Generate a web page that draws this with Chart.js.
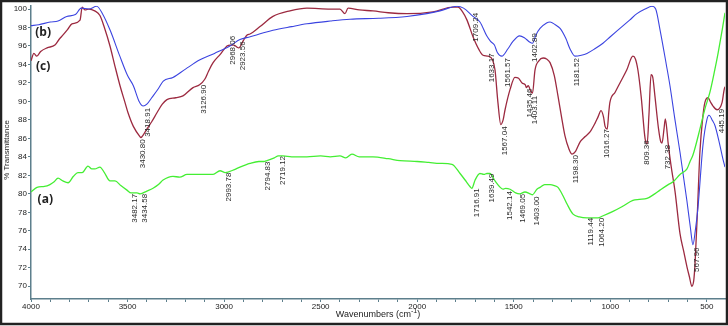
<!DOCTYPE html>
<html>
<head>
<meta charset="utf-8">
<script src="https://cdn.jsdelivr.net/npm/chart.js@4.4.1/dist/chart.umd.min.js"></script>
<style>
  html, body { margin: 0; padding: 0; background: #fff; }
  canvas { display: block; }
</style>
</head>
<body>
<canvas id="ftirCanvas" width="728" height="326"></canvas>
<script>
// spectrum (a) - green
const wnA = [4000, 3969, 3930, 3902, 3880, 3860, 3835, 3808, 3780, 3757, 3735, 3705, 3685, 3669, 3643, 3620, 3591, 3565, 3535, 3503,
  3482, 3451, 3435, 3400, 3368, 3340, 3316, 3265, 3230, 3192, 3120, 3057, 3021, 2994, 2950, 2918, 2866, 2820, 2795, 2778,
  2740, 2719, 2695, 2650, 2571, 2500, 2450, 2400, 2370, 2338, 2300, 2229, 2150, 2089, 2000, 1940, 1882, 1820, 1778, 1745,
  1727, 1717, 1700, 1675, 1655, 1639, 1623, 1597, 1570, 1556, 1542, 1519, 1490, 1469, 1442, 1415, 1403, 1380, 1364, 1340,
  1312, 1290, 1271, 1245, 1224, 1193, 1160, 1121, 1090, 1064, 1040, 986, 940, 883, 850, 810, 770, 743, 700, 675,
  639, 603, 587, 572, 536, 510, 484, 460, 442, 420, 406];
const tA = [80.2, 80.7, 80.8, 81.0, 81.3, 81.7, 81.4, 81.2, 81.9, 82.3, 82.3, 83.0, 82.7, 82.7, 82.9, 82.3, 81.4, 81.4, 80.9, 80.4,
  80.1, 80.1, 80.0, 80.3, 80.6, 81.0, 81.5, 81.9, 81.8, 82.1, 82.1, 82.1, 82.5, 82.3, 82.6, 82.9, 83.3, 83.5, 83.5, 83.6,
  83.9, 84.1, 84.1, 84.0, 84.0, 84.1, 84.0, 84.1, 83.9, 84.3, 84.0, 84.0, 83.8, 83.6, 83.5, 83.4, 83.3, 83.2, 82.2, 81.3,
  80.8, 80.6, 81.5, 82.2, 82.1, 82.2, 82.2, 81.4, 80.7, 80.5, 80.6, 80.5, 80.1, 80.0, 80.2, 80.0, 79.9, 80.5, 80.7, 81.0,
  81.0, 80.9, 80.7, 79.8, 78.9, 77.8, 77.5, 77.4, 77.4, 77.4, 77.6, 78.1, 78.6, 79.3, 79.4, 79.5, 80.0, 80.4, 81.0, 81.3,
  82.1, 82.7, 83.5, 84.2, 87.0, 89.2, 91.0, 93.3, 95.2, 97.8, 99.6];

// spectrum (b) - blue
const wnB = [4000, 3960, 3900, 3860, 3815, 3770, 3740, 3700, 3660, 3630, 3590, 3540, 3500, 3470, 3440, 3419, 3400, 3375, 3340, 3315,
  3265, 3200, 3125, 3050, 2970, 2918, 2865, 2800, 2747, 2650, 2571, 2450, 2348, 2200, 2053, 1950, 1882, 1794, 1760, 1711,
  1675, 1640, 1620, 1600, 1585, 1562, 1530, 1504, 1470, 1445, 1416, 1403, 1385, 1364, 1330, 1312, 1285, 1260, 1230, 1209,
  1183, 1150, 1121, 1080, 1038, 1000, 950, 900, 862, 820, 784, 765, 742, 710, 691, 665, 639, 603, 585, 572,
  560, 546, 520, 500, 489, 470, 458, 435, 416, 406];
const tB = [98.2, 98.3, 98.6, 98.7, 99.2, 99.4, 100.1, 100.0, 100.3, 99.5, 97.7, 94.9, 92.8, 91.7, 90.0, 89.5, 89.7, 90.4, 91.4, 92.2,
  92.6, 93.5, 94.5, 95.2, 96.0, 96.7, 97.0, 97.4, 97.7, 98.1, 98.4, 98.7, 98.9, 99.0, 99.2, 99.5, 99.8, 100.3, 100.1, 99.2,
  98.6, 97.1, 96.5, 96.1, 95.3, 94.9, 95.7, 96.5, 97.1, 96.9, 96.4, 96.3, 97.2, 97.9, 98.5, 98.6, 98.3, 97.9, 96.8, 95.7,
  94.9, 95.0, 95.2, 95.7, 96.3, 97.0, 97.9, 98.8, 99.5, 100.0, 100.3, 100.0, 97.7, 94.0, 91.7, 88.0, 84.5, 79.2, 76.3, 74.5,
  76.0, 78.5, 85.3, 88.0, 88.5, 87.9, 87.4, 85.5, 83.7, 82.9];

// spectrum (c) - maroon
const wnC = [4000, 3985, 3970, 3950, 3917, 3876, 3855, 3834, 3810, 3788, 3746, 3735, 3720, 3700, 3670, 3643, 3620, 3591, 3565, 3539,
  3515, 3498, 3470, 3436, 3431, 3415, 3400, 3375, 3347, 3320, 3296, 3250, 3213, 3161, 3127, 3100, 3080, 3057, 3020, 2985,
  2968, 2950, 2935, 2924, 2900, 2881, 2866, 2814, 2747, 2659, 2571, 2450, 2400, 2374, 2358, 2300, 2229, 2150, 2053, 1918,
  1815, 1789, 1765, 1742, 1711, 1680, 1659, 1633, 1610, 1597, 1582, 1567, 1555, 1545, 1519, 1494, 1475, 1457, 1440, 1435,
  1425, 1410, 1403, 1390, 1370, 1348, 1330, 1312, 1290, 1271, 1250, 1235, 1215, 1198, 1180, 1157, 1130, 1105, 1080, 1064,
  1048, 1035, 1027, 1016, 1008, 1002, 975, 950, 915, 883, 870, 857, 840, 820, 809, 800, 789, 780, 769, 750,
  738, 732, 722, 715, 705, 701, 685, 665, 639, 620, 603, 590, 578, 568, 561, 548, 536, 520, 510, 494,
  480, 468, 447, 421, 411, 406];
const tC = [94.4, 95.2, 94.9, 95.4, 95.8, 96.1, 96.7, 97.2, 97.8, 98.4, 98.8, 100.2, 99.9, 100.0, 99.8, 99.3, 98.0, 96.0, 93.8, 91.7,
  90.0, 88.8, 87.3, 86.2, 86.1, 86.5, 87.0, 87.8, 88.8, 89.7, 90.2, 90.4, 90.6, 91.5, 91.8, 92.4, 93.3, 94.2, 95.1, 96.0,
  96.1, 96.1, 95.9, 95.8, 96.6, 97.2, 97.3, 98.1, 99.2, 99.8, 100.1, 100.0, 100.0, 99.5, 100.1, 99.9, 99.8, 99.6, 99.5, 99.7,
  100.2, 100.2, 99.7, 98.8, 97.0, 95.6, 95.0, 94.9, 94.5, 93.4, 89.9, 87.5, 88.0, 89.1, 91.3, 92.6, 92.5, 92.0, 91.8, 91.5,
  91.7, 91.0, 90.9, 93.4, 94.4, 94.7, 94.6, 94.2, 92.8, 90.6, 88.0, 86.3, 84.9, 84.3, 84.6, 85.6, 86.2, 86.7, 87.6, 88.3,
  89.0, 88.3, 87.3, 87.0, 88.8, 89.9, 91.0, 92.0, 93.4, 94.9, 94.6, 93.4, 90.5, 86.0, 85.4, 88.5, 92.9, 92.6, 90.6, 87.0,
  85.6, 85.5, 87.0, 88.1, 86.5, 85.6, 83.0, 80.3, 75.7, 73.8, 72.1, 71.0, 70.0, 70.6, 72.5, 78.5, 84.5, 88.5, 89.9, 90.4,
  89.9, 89.5, 89.1, 89.9, 91.2, 91.6];

// axis ticks
const xTickLabels = [4000, 3500, 3000, 2500, 2000, 1500, 1000, 500];
const yTickLabels = [70, 72, 74, 76, 78, 80, 82, 84, 86, 88, 90, 92, 94, 96, 98, 100];

// peak annotations: text, anchor wavenumber, %T at the top end of the text
const peakText = ['3430.80', '3418.91', '3126.90', '2968.06', '2923.56', '1709.24', '1633.17', '1561.57', '1402.89', '1435.46',
  '1403.11', '1181.52', '1567.04', '1198.30', '1016.27', '809.36', '732.38', '567.96', '445.19',
  '3482.17', '3434.58', '2993.78', '2794.83', '2719.12', '1716.91', '1639.49', '1542.14', '1469.05', '1403.00', '1119.44', '1064.20'];
const peakX = [3420, 3394, 3104, 2956, 2902, 1696, 1613, 1530, 1390, 1416,
  1390, 1172, 1545, 1178, 1017, 810, 701, 551, 422,
  3461, 3410, 2975, 2773, 2695, 1690, 1613, 1519, 1452, 1380, 1100, 1043];
const peakY = [85.9, 89.3, 91.8, 97.1, 96.5, 99.6, 95.2, 94.7, 97.4, 91.4,
  90.6, 94.7, 87.3, 84.2, 87.0, 85.8, 85.3, 74.2, 89.2,
  80.0, 80.0, 82.3, 83.5, 84.1, 80.6, 82.2, 80.3, 80.0, 79.7, 77.4, 77.4];

// series letters
const seriesTags = ['(b)', '(c)', '(a)'];
const seriesTagX = [3978, 3974, 3966];
const seriesTagY = [97.4, 93.8, 79.4];

const axisColor = '#5d7f8c';
const narrow = '"Liberation Sans Narrow", "Arial Narrow", "Liberation Sans", Arial, sans-serif';

function toPoints(wn, t) {
  return wn.map((w, i) => ({ x: w, y: t[i] }));
}

const framePlugin = {
  id: 'frame',
  afterDraw(chart) {
    const c = chart.ctx;
    c.save();
    c.strokeStyle = '#222';
    c.lineWidth = 2.5;
    c.strokeRect(1, 1, chart.width - 2, chart.height - 3);
    c.restore();
  }
};

const textPlugin = {
  id: 'texts',
  afterDatasetsDraw(chart) {
    const c = chart.ctx;
    const xs = chart.scales.x, ys = chart.scales.y;
    c.save();
    c.fillStyle = '#2a2a2a';
    c.font = '8px ' + narrow;
    c.textAlign = 'right';
    c.textBaseline = 'middle';
    peakText.forEach((txt, i) => {
      c.save();
      c.translate(xs.getPixelForValue(peakX[i]), ys.getPixelForValue(peakY[i]));
      c.rotate(-Math.PI / 2);
      c.fillText(txt, 0, 0);
      c.restore();
    });

    c.font = 'bold 12px "Open Sans", "Liberation Sans", Arial, sans-serif';
    c.textAlign = 'left';
    c.fillStyle = '#222';
    seriesTags.forEach((tag, i) => {
      c.fillText(tag, xs.getPixelForValue(seriesTagX[i]), ys.getPixelForValue(seriesTagY[i]));
    });

    // y title
    c.font = '8px ' + narrow;
    c.textAlign = 'center';
    c.save();
    c.translate(7, 150);
    c.rotate(-Math.PI / 2);
    c.fillText('% Transmittance', 0, 0);
    c.restore();

    // x title with superscript
    const base = 'Wavenumbers (cm';
    const sup = '-1';
    const tail = ')';
    c.font = '9px ' + narrow;
    const w1 = c.measureText(base).width;
    const w3 = c.measureText(tail).width;
    c.font = '7px ' + narrow;
    const w2 = c.measureText(sup).width;
    let x0 = 378 - (w1 + w2 + w3) / 2;
    c.textAlign = 'left';
    c.font = '9px ' + narrow;
    c.fillText(base, x0, 315);
    c.font = '7px ' + narrow;
    c.fillText(sup, x0 + w1, 311);
    c.font = '9px ' + narrow;
    c.fillText(tail, x0 + w1 + w2, 315);
    c.restore();
  }
};

const ctx = document.getElementById('ftirCanvas').getContext('2d');
const ftirChart = new Chart(ctx, {
  type: 'line',
  data: {
    datasets: [
      { label: '(a)', data: toPoints(wnA, tA), borderColor: '#44ee33', borderWidth: 1.3 },
      { label: '(b)', data: toPoints(wnB, tB), borderColor: '#3b44e0', borderWidth: 1.1 },
      { label: '(c)', data: toPoints(wnC, tC), borderColor: '#9c2a40', borderWidth: 1.3 }
    ]
  },
  options: {
    responsive: false,
    animation: false,
    parsing: false,
    elements: {
      point: { radius: 0 },
      line: { tension: 0.4, cubicInterpolationMode: 'monotone', fill: false }
    },
    layout: { padding: { left: 2, top: 2, right: 3, bottom: 0 } },
    plugins: { legend: { display: false }, tooltip: { enabled: false } },
    scales: {
      x: {
        type: 'linear',
        reverse: true,
        min: 406,
        max: 4000,
        afterBuildTicks(axis) {
          const t = [];
          for (let v = 4000; v >= 500; v -= 100) t.push({ value: v });
          axis.ticks = t;
        },
        afterFit(axis) { axis.height = 27; },
        ticks: {
          autoSkip: false,
          maxRotation: 0,
          padding: 0,
          color: '#222',
          font: { family: narrow, size: 8 },
          callback: (v) => xTickLabels.includes(v) ? String(v) : ''
        },
        grid: { drawOnChartArea: false, drawTicks: true, tickLength: 3, color: axisColor },
        border: { color: axisColor, width: 1.5 }
      },
      y: {
        min: 68.62,
        max: 100.35,
        afterBuildTicks(axis) {
          axis.ticks = yTickLabels.map(v => ({ value: v }));
        },
        afterFit(axis) { axis.width = 29; },
        ticks: {
          padding: 1,
          color: '#222',
          font: { family: narrow, size: 8 }
        },
        grid: { drawOnChartArea: false, drawTicks: true, tickLength: 3, color: axisColor },
        border: { color: axisColor, width: 1.5 }
      }
    }
  },
  plugins: [framePlugin, textPlugin]
});
</script>
</body>
</html>
